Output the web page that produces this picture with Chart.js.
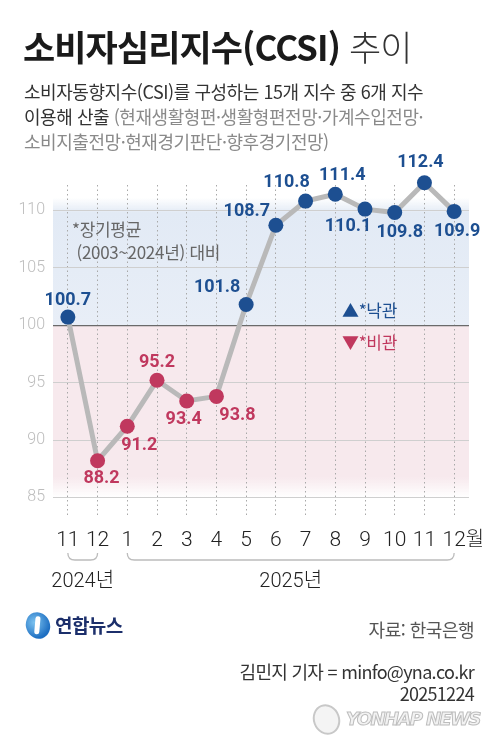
<!DOCTYPE html>
<html lang="ko">
<head>
<meta charset="utf-8">
<script src="https://cdn.jsdelivr.net/npm/chart.js@4.4.1/dist/chart.umd.min.js"></script>
<style>
  html, body { margin: 0; padding: 0; background: #fff; }
  body { width: 497px; height: 750px; position: relative; overflow: hidden;
         font-family: "Noto Sans CJK KR", "Noto Sans", sans-serif; }
  #box { position: absolute; left: 0; top: 0; width: 497px; height: 750px; }
  .t { position: absolute; white-space: nowrap; }
  #title { left: 23px; top: 25px; font-size: 35px; line-height: 42px; font-weight: 700; color: #1a1a1a; letter-spacing: -0.9px; }
  #title span { font-weight: 300; color: #333; }
  #sub { left: 24px; top: 79px; font-size: 18px; line-height: 25px; color: #333; letter-spacing: -0.45px; }
  #sub .g { color: #8a8a8a; }
  #note { left: 72px; top: 217px; font-size: 17px; line-height: 23px; color: #666; letter-spacing: -0.3px; }
  #legend { left: 342px; top: 294px; font-size: 17px; line-height: 32px; letter-spacing: -0.3px; }
  #legend .up { color: #1d4f91; }
  #legend .dn { color: #c0385e; }
  #logo { left: 26px; top: 612px; height: 26px; }
  #logo i { position: absolute; left: 0; top: 0; width: 24px; height: 27px; border-radius: 50%;
            background: radial-gradient(circle at 40% 35%, #7cc3f0, #1e6fc2 70%); transform: rotate(-20deg); }
  #logo i::after { content: ""; position: absolute; left: 9px; top: 4px; width: 5px; height: 18px; border-radius: 3px;
            background: #fff; transform: rotate(25deg); }
  #logo b { position: absolute; left: 29px; top: -1px; font-size: 19px; line-height: 27px; color: #1c2f6b; letter-spacing: -0.6px; }
  #src { right: 23px; top: 616px; font-size: 18px; line-height: 26px; color: #555; letter-spacing: -0.5px; }
  #byline { right: 23px; top: 660px; font-size: 18px; line-height: 22px; color: #333; text-align: right; letter-spacing: -0.7px; }
  #wm { left: 313px; top: 704px; height: 30px; }
  #wm i { position: absolute; left: 0; top: 0; width: 27px; height: 31px; border-radius: 50%;
          border: 2px solid #c8c8c8; background: #f4f4f4; transform: rotate(-20deg); box-sizing: border-box; }
  #wm b { position: absolute; left: 33px; top: 2px; font-family: "DejaVu Sans", sans-serif; font-size: 18px; line-height: 26px;
          font-style: italic; font-weight: 700; color: #f2f2f2; -webkit-text-stroke: 1px #bdbdbd; letter-spacing: -1.6px; }
</style>
</head>
<body>
<div id="box"><canvas id="ccsiChart" width="497" height="750"></canvas></div>

<div class="t" id="title">소비자심리지수(CCSI) <span>추이</span></div>
<div class="t" id="sub">소비자동향지수(CSI)를 구성하는 15개 지수 중 6개 지수<br>이용해 산출 <span class="g">(현재생활형편·생활형편전망·가계수입전망·</span><br><span class="g">소비지출전망·현재경기판단·향후경기전망)</span></div>
<div class="t" id="note">*장기평균<br>&nbsp;(2003~2024년) 대비</div>
<div class="t" id="legend"><span class="up">▲*낙관</span><br><span class="dn">▼*비관</span></div>
<div class="t" id="logo"><i></i><b>연합뉴스</b></div>
<div class="t" id="src">자료: 한국은행</div>
<div class="t" id="byline">김민지 기자 = minfo@yna.co.kr<br>20251224</div>
<div class="t" id="wm"><i></i><b>YONHAP NEWS</b></div>

<script>
const months = ["11", "12", "1", "2", "3", "4", "5", "6", "7", "8", "9", "10", "11", "12"];
const ccsi = [100.7, 88.2, 91.2, 95.2, 93.4, 93.8, 101.8, 108.7, 110.8, 111.4, 110.1, 109.8, 112.4, 109.9];
const yTicks = [85, 90, 95, 100, 105, 110];
const years = ["2024년", "2025년"];
const yearFrom = [0, 2];
const yearTo = [1, 13];

const BLUE = "#1d4f91";
const RED = "#c0385e";
const BASE = 100;

// where each value label sits relative to its dot
const labelOffsets = [
  [0, -17], [4, 18], [12, 19], [0, -18], [-3, 19], [21, 19], [-29, -17],
  [-29, -14], [-19, -19], [7, -19], [-17, 17], [5, 20], [-4, -20], [3, 20]
];

const bandPlugin = {
  id: "bands",
  beforeDraw(chart) {
    const { ctx, chartArea } = chart;
    const y = chart.scales.y;
    const y100 = y.getPixelForValue(BASE);
    const yTop = y.getPixelForValue(111.1);
    const yBot = y.getPixelForValue(85);
    const l = chartArea.left, w = chartArea.right - chartArea.left;

    ctx.save();
    let g = ctx.createLinearGradient(0, yTop, 0, y100);
    g.addColorStop(0, "rgba(226,234,245,0)");
    g.addColorStop(0.12, "rgba(226,234,245,1)");
    g.addColorStop(1, "rgba(232,238,247,1)");
    ctx.fillStyle = g;
    ctx.fillRect(l, yTop, w, y100 - yTop);

    g = ctx.createLinearGradient(0, y100, 0, yBot);
    g.addColorStop(0, "rgba(247,233,237,1)");
    g.addColorStop(0.88, "rgba(247,233,237,1)");
    g.addColorStop(1, "rgba(247,233,237,0)");
    ctx.fillStyle = g;
    ctx.fillRect(l, y100, w, yBot - y100);
    ctx.restore();
  }
};

const labelPlugin = {
  id: "valueLabels",
  afterDatasetsDraw(chart) {
    const { ctx } = chart;
    const pts = chart.getDatasetMeta(0).data;
    ctx.save();
    ctx.font = "bold 18px Roboto, sans-serif";
    ctx.textAlign = "center";
    ctx.textBaseline = "middle";
    pts.forEach((p, i) => {
      const v = ccsi[i];
      ctx.fillStyle = v >= BASE ? BLUE : RED;
      ctx.fillText(v.toFixed(1), p.x + labelOffsets[i][0], p.y + labelOffsets[i][1]);
    });
    ctx.restore();
  }
};

const axisExtras = {
  id: "axisExtras",
  afterDraw(chart) {
    const { ctx } = chart;
    const x = chart.scales.x;
    const last = months.length - 1;

    ctx.save();
    ctx.font = "300 21px Roboto, sans-serif";
    ctx.fillStyle = "#222";
    ctx.textBaseline = "middle";
    ctx.textAlign = "left";
    const half = ctx.measureText(months[last]).width / 2;
    ctx.font = "300 20px 'Noto Sans CJK KR', sans-serif";
    ctx.fillText("월", x.getPixelForValue(last) + half, 538);

    // year brackets
    ctx.strokeStyle = "#bcbcbc";
    ctx.lineWidth = 1.3;
    const by = 560, r = 7;
    for (let k = 0; k < years.length; k++) {
      const a = x.getPixelForValue(yearFrom[k]);
      const b = x.getPixelForValue(yearTo[k]);
      ctx.beginPath();
      ctx.moveTo(a, by - r);
      ctx.quadraticCurveTo(a, by, a + r, by);
      ctx.lineTo(b - r, by);
      ctx.quadraticCurveTo(b, by, b, by - r);
      ctx.stroke();

      ctx.font = "300 20px Roboto, 'Noto Sans CJK KR', sans-serif";
      ctx.textAlign = "center";
      ctx.fillStyle = "#222";
      ctx.fillText(years[k], (a + b) / 2, 582);
    }
    ctx.restore();
  }
};

new Chart(document.getElementById("ccsiChart"), {
  type: "line",
  data: {
    labels: months,
    datasets: [{
      data: ccsi,
      borderColor: "#b9b9b9",
      borderWidth: 5,
      tension: 0,
      pointRadius: 7.5,
      pointHoverRadius: 7.5,
      pointBorderWidth: 0,
      pointBackgroundColor: c => (c.raw >= BASE ? BLUE : RED),
      clip: false
    }]
  },
  options: {
    responsive: false,
    animation: false,
    layout: { padding: { top: 185, right: 28, bottom: 0, left: 0 } },
    plugins: { legend: { display: false }, tooltip: { enabled: false } },
    scales: {
      x: {
        offset: true,
        afterFit(s) { s.height = 233; },
        grid: {
          offset: false,
          drawTicks: false,
          color: "#a8a8a8",
          lineWidth: 1
        },
        border: { display: false, dash: [1.5, 3] },
        ticks: {
          padding: 11,
          color: "#222",
          font: { family: "Roboto", weight: 300, size: 21 }
        }
      },
      y: {
        min: 83.3,
        max: 112.2,
        afterFit(s) { s.width = 53; },
        afterBuildTicks(s) { s.ticks = yTicks.map(v => ({ value: v })); },
        border: { display: false },
        grid: {
          drawTicks: false,
          color: c => (c.tick && c.tick.value === BASE ? "#6a6a6a" : "#cfcfcf"),
          lineWidth: c => (c.tick && c.tick.value === BASE ? 1.3 : 1)
        },
        ticks: {
          padding: 8,
          color: "#bdbdbd",
          font: { family: "Roboto", weight: 300, size: 16 }
        }
      }
    }
  },
  plugins: [bandPlugin, labelPlugin, axisExtras]
});
</script>
</body>
</html>
